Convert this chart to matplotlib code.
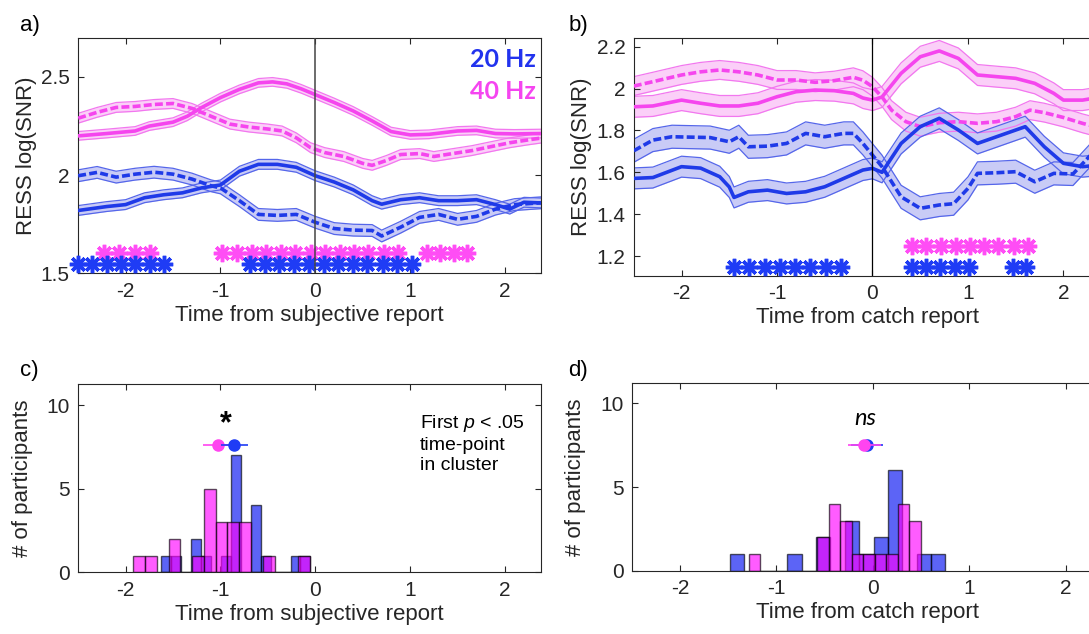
import numpy as np
import matplotlib
matplotlib.use('Agg')
import matplotlib.pyplot as plt
from matplotlib import rcParams

config = {
    "font.family": ['Liberation Sans', 'DejaVu Sans'],
    "font.size": 14,
    "mathtext.fontset": 'custom',
    "mathtext.rm": 'Liberation Sans',
    "mathtext.it": 'Liberation Sans:italic',
    "axes.unicode_minus": False,
}
rcParams.update(config)

# ---- panel a: time from subjective report ----
a_pink_solid_t = [-2.5, -2.2, -1.9, -1.75, -1.5, -1.35, -1.2, -1.0, -0.8, -0.6, -0.45, -0.3, -0.15, 0.0, 0.2, 0.4, 0.6, 0.8, 1.0, 1.2, 1.5, 1.7, 1.9, 2.1, 2.4]
a_pink_solid_y = [2.20, 2.212, 2.225, 2.25, 2.27, 2.30, 2.344, 2.395, 2.437, 2.47, 2.475, 2.465, 2.44, 2.41, 2.37, 2.327, 2.276, 2.222, 2.205, 2.208, 2.225, 2.228, 2.212, 2.21, 2.212]
a_pink_dash_t = [-2.5, -2.3, -2.1, -1.9, -1.7, -1.5, -1.3, -1.1, -0.9, -0.7, -0.5, -0.35, -0.2, -0.05, 0.1, 0.3, 0.5, 0.6, 0.75, 0.9, 1.1, 1.25, 1.45, 1.65, 1.85, 2.05, 2.25, 2.4]
a_pink_dash_y = [2.29, 2.32, 2.345, 2.35, 2.36, 2.365, 2.34, 2.30, 2.26, 2.245, 2.235, 2.225, 2.19, 2.14, 2.115, 2.095, 2.06, 2.05, 2.075, 2.105, 2.11, 2.095, 2.11, 2.125, 2.145, 2.165, 2.18, 2.19]
a_blue_solid_t = [-2.5, -2.2, -2.0, -1.8, -1.6, -1.4, -1.2, -1.0, -0.8, -0.6, -0.4, -0.2, 0.0, 0.2, 0.4, 0.6, 0.7, 0.9, 1.1, 1.3, 1.5, 1.7, 1.9, 2.05, 2.2, 2.4]
a_blue_solid_y = [1.82, 1.84, 1.85, 1.885, 1.90, 1.91, 1.935, 1.95, 2.02, 2.055, 2.055, 2.04, 1.997, 1.965, 1.925, 1.87, 1.852, 1.875, 1.885, 1.87, 1.87, 1.875, 1.85, 1.827, 1.862, 1.858]
a_blue_dash_t = [-2.5, -2.3, -2.1, -1.9, -1.7, -1.5, -1.3, -1.1, -1.0, -0.8, -0.6, -0.4, -0.2, 0.0, 0.2, 0.4, 0.6, 0.7, 0.9, 1.1, 1.3, 1.5, 1.7, 1.9, 2.1, 2.4]
a_blue_dash_y = [1.997, 2.014, 1.99, 2.005, 2.015, 2.005, 1.98, 1.946, 1.935, 1.87, 1.80, 1.795, 1.80, 1.76, 1.728, 1.72, 1.718, 1.69, 1.735, 1.785, 1.80, 1.775, 1.79, 1.827, 1.85, 1.86]
a_sem = [0.022, 0.025, 0.025, 0.03]  # pink solid, pink dashed, blue solid, blue dashed

a_pink_stars = [-2.23, -2.07, -1.90, -1.74,
                -0.98, -0.83, -0.67, -0.52, -0.36, -0.21, -0.05, 0.10, 0.26, 0.41, 0.56, 0.72, 0.87,
                1.18, 1.32, 1.46, 1.60]
a_blue_stars = [-2.50, -2.35, -2.20, -2.05, -1.90, -1.74, -1.59,
                -0.69, -0.53, -0.38, -0.22, -0.07, 0.09, 0.24, 0.40, 0.55, 0.71, 0.86, 1.02]

# ---- panel b: time from catch report ----
b_pink_solid_t = [-2.5, -2.3, -2.0, -1.8, -1.6, -1.4, -1.2, -1.0, -0.8, -0.6, -0.4, -0.2, -0.1, 0.0, 0.1, 0.3, 0.5, 0.7, 0.9, 1.1, 1.3, 1.5, 1.7, 1.9, 2.0, 2.2, 2.4]
b_pink_solid_y = [1.913, 1.917, 1.945, 1.93, 1.917, 1.917, 1.93, 1.961, 1.985, 1.993, 1.99, 1.977, 1.955, 1.945, 1.96, 2.073, 2.152, 2.18, 2.144, 2.065, 2.057, 2.049, 2.025, 1.977, 1.945, 1.945, 1.96]
b_pink_dash_t = [-2.5, -2.3, -2.0, -1.8, -1.6, -1.4, -1.2, -1.0, -0.8, -0.6, -0.4, -0.2, -0.1, 0.0, 0.1, 0.2, 0.35, 0.5, 0.7, 0.9, 1.1, 1.3, 1.5, 1.65, 1.8, 2.0, 2.2, 2.4]
b_pink_dash_y = [2.012, 2.033, 2.065, 2.08, 2.089, 2.08, 2.065, 2.041, 2.041, 2.03, 2.038, 2.054, 2.04, 2.009, 1.96, 1.897, 1.842, 1.818, 1.837, 1.842, 1.834, 1.842, 1.866, 1.897, 1.885, 1.862, 1.834, 1.81]
b_blue_solid_t = [-2.5, -2.3, -2.0, -1.8, -1.6, -1.5, -1.45, -1.3, -1.1, -0.9, -0.7, -0.5, -0.3, -0.1, 0.0, 0.1, 0.3, 0.5, 0.7, 0.9, 1.1, 1.3, 1.6, 1.8, 2.0, 2.2, 2.4]
b_blue_solid_y = [1.571, 1.575, 1.627, 1.62, 1.579, 1.53, 1.48, 1.507, 1.515, 1.499, 1.507, 1.531, 1.571, 1.611, 1.619, 1.60, 1.738, 1.818, 1.858, 1.802, 1.738, 1.77, 1.818, 1.722, 1.643, 1.627, 1.635]
b_blue_dash_t = [-2.5, -2.3, -2.1, -1.9, -1.7, -1.5, -1.4, -1.3, -1.1, -0.9, -0.7, -0.5, -0.3, -0.2, -0.1, 0.0, 0.1, 0.2, 0.3, 0.5, 0.7, 0.85, 1.0, 1.1, 1.3, 1.5, 1.7, 1.9, 2.1, 2.3, 2.4]
b_blue_dash_y = [1.703, 1.754, 1.77, 1.768, 1.766, 1.746, 1.77, 1.722, 1.725, 1.738, 1.786, 1.77, 1.786, 1.786, 1.738, 1.682, 1.627, 1.555, 1.483, 1.428, 1.444, 1.45, 1.523, 1.595, 1.598, 1.603, 1.555, 1.595, 1.592, 1.69, 1.70]
b_sem = [0.05, 0.045, 0.05, 0.055]

b_pink_stars = [0.41, 0.56, 0.72, 0.87, 1.02, 1.17, 1.32, 1.48, 1.63]
b_blue_stars = [-1.45, -1.29, -1.13, -0.97, -0.81, -0.65, -0.49, -0.33,
                0.41, 0.56, 0.71, 0.86, 1.01,
                1.47, 1.61]

# ---- panel c/d histograms: first significant time-point ----
c_blue_start, c_blue_width = -1.626, 0.105
c_blue_counts = [1, 1, 0, 2, 1, 0, 1, 7, 0, 4, 1, 0, 0, 1, 1]
c_pink_start, c_pink_width = -1.918, 0.124
c_pink_counts = [1, 1, 0, 2, 0, 1, 5, 3, 3, 3, 0, 1, 0, 0, 1]
c_means = [-1.028, -0.852]   # pink, blue
c_errs = [0.158, 0.14]

d_blue_start, d_blue_width = -1.483, 0.149
d_blue_counts = [1, 0, 0, 0, 1, 0, 2, 0, 3, 1, 2, 6, 0, 1, 1]
d_pink_start, d_pink_width = -1.29, 0.119
d_pink_counts = [1, 0, 0, 0, 0, 0, 2, 4, 3, 1, 1, 1, 1, 4, 3]
d_means = [-0.088, -0.06]
d_errs = [0.17, 0.17]

BLUE = '#1f3ae8'
PINK = '#f545ee'
BLUE_FILL = '#c9cbf6'
PINK_FILL = '#fbcff8'
BLUE_EDGE = '#5566ea'
PINK_EDGE = '#f277ef'
AX_COL = '#262626'


def style_axes(ax):
    for s in ax.spines.values():
        s.set_color(AX_COL)
        s.set_linewidth(0.8)
    ax.tick_params(direction='in', top=True, right=True, length=4, width=0.8,
                   colors=AX_COL, labelsize=15, pad=6)


def band(ax, t, y, half, color, fill, edge, ls):
    t = np.asarray(t)
    y = np.asarray(y)
    ax.fill_between(t, y - half, y + half, color=fill, lw=0, zorder=1)
    ax.plot(t, y - half, color=edge, lw=0.9, zorder=2)
    ax.plot(t, y + half, color=edge, lw=0.9, zorder=2)
    ax.plot(t, y, color=color, lw=2.6, ls=ls, zorder=3)


def stars(ax, xs, y, color):
    ax.plot(xs, [y] * len(xs), ls='none', marker=(8, 2, 0), ms=12.5, mew=2.5,
            color=color, zorder=4, clip_on=False)


fig = plt.figure(figsize=(10.89, 6.34), dpi=100)
ax_a = fig.add_axes([0.0718, 0.5689, 0.425, 0.3716])
ax_b = fig.add_axes([0.582, 0.5651, 0.4287, 0.3754])
ax_c = fig.add_axes([0.0718, 0.0973, 0.425, 0.2965])
ax_d = fig.add_axes([0.5803, 0.0994, 0.4327, 0.297])

DASH = (0, (2.2, 0.9))

# panel a
band(ax_a, a_pink_solid_t, a_pink_solid_y, a_sem[0], PINK, PINK_FILL, PINK_EDGE, '-')
band(ax_a, a_pink_dash_t, a_pink_dash_y, a_sem[1], PINK, PINK_FILL, PINK_EDGE, DASH)
band(ax_a, a_blue_solid_t, a_blue_solid_y, a_sem[2], BLUE, BLUE_FILL, BLUE_EDGE, '-')
band(ax_a, a_blue_dash_t, a_blue_dash_y, a_sem[3], BLUE, BLUE_FILL, BLUE_EDGE, DASH)
ax_a.axvline(0, color='#444444', lw=1.1, zorder=5)
stars(ax_a, a_pink_stars, 1.603, '#ff4df5')
stars(ax_a, a_blue_stars, 1.547, '#1f3cf5')
ax_a.set_xlim(-2.5, 2.38)
ax_a.set_ylim(1.5, 2.7)
ax_a.set_xticks([-2, -1, 0, 1, 2])
ax_a.set_yticks([1.5, 2, 2.5])
ax_a.set_yticklabels(['1.5', '2', '2.5'])
ax_a.set_xlabel('Time from subjective report', fontsize=16, color=AX_COL, labelpad=3)
ax_a.set_ylabel('RESS log(SNR)', fontsize=16, color=AX_COL, labelpad=3)
ax_a.text(2.33, 2.59, '20 Hz', color='#2233ee', fontsize=18, fontweight='bold',
          family=['Lato', 'DejaVu Sans'], ha='right', va='center')
ax_a.text(2.33, 2.425, '40 Hz', color='#f545f0', fontsize=18, fontweight='bold',
          family=['Lato', 'DejaVu Sans'], ha='right', va='center')
style_axes(ax_a)

# panel b
band(ax_b, b_pink_solid_t, b_pink_solid_y, b_sem[0], PINK, PINK_FILL, PINK_EDGE, '-')
band(ax_b, b_pink_dash_t, b_pink_dash_y, b_sem[1], PINK, PINK_FILL, PINK_EDGE, DASH)
band(ax_b, b_blue_solid_t, b_blue_solid_y, b_sem[2], BLUE, BLUE_FILL, BLUE_EDGE, '-')
band(ax_b, b_blue_dash_t, b_blue_dash_y, b_sem[3], BLUE, BLUE_FILL, BLUE_EDGE, DASH)
ax_b.axvline(0, color='black', lw=0.9, zorder=5)
stars(ax_b, b_pink_stars, 1.248, '#ff4df5')
stars(ax_b, b_blue_stars, 1.149, '#1f3cf5')
ax_b.set_xlim(-2.5, 2.39)
ax_b.set_ylim(1.106, 2.243)
ax_b.set_xticks([-2, -1, 0, 1, 2])
ax_b.set_yticks([1.2, 1.4, 1.6, 1.8, 2.0, 2.2])
ax_b.set_yticklabels(['1.2', '1.4', '1.6', '1.8', '2', '2.2'])
ax_b.set_xlabel('Time from catch report', fontsize=16, color=AX_COL, labelpad=3)
ax_b.set_ylabel('RESS log(SNR)', fontsize=16, color=AX_COL, labelpad=3)
style_axes(ax_b)


def hist(ax, start, width, counts, face):
    edges = start + width * np.arange(len(counts))
    ax.bar(edges, counts, width=width, align='edge', color=face, alpha=0.64,
           edgecolor=(0, 0, 0, 0.55), linewidth=1.0, zorder=2)


# panel c
hist(ax_c, c_blue_start, c_blue_width, c_blue_counts, (0.0, 0.05, 0.95))
hist(ax_c, c_pink_start, c_pink_width, c_pink_counts, (1.0, 0.0, 1.0))
ax_c.errorbar(c_means[0], 7.6, xerr=c_errs[0], fmt='o', ms=8, color='#ff44f0',
              elinewidth=1.2, capsize=0, zorder=4)
ax_c.errorbar(c_means[1], 7.6, xerr=c_errs[1], fmt='o', ms=8, color='#1f3cf5',
              elinewidth=1.2, capsize=0, zorder=5)
ax_c.text(-0.94, 8.85, '*', fontsize=22, fontweight='bold', ha='center', va='center')
ax_c.text(1.1, 9.55, 'First $\\it{p}$ < .05\ntime-point\nin cluster', fontsize=14,
          ha='left', va='top', linespacing=1.25)
ax_c.set_xlim(-2.5, 2.38)
ax_c.set_ylim(0, 11.25)
ax_c.set_xticks([-2, -1, 0, 1, 2])
ax_c.set_yticks([0, 5, 10])
ax_c.set_xlabel('Time from subjective report', fontsize=16, color=AX_COL, labelpad=3)
ax_c.set_ylabel('# of participants', fontsize=16, color=AX_COL, labelpad=10)
style_axes(ax_c)

# panel d
hist(ax_d, d_blue_start, d_blue_width, d_blue_counts, (0.0, 0.05, 0.95))
hist(ax_d, d_pink_start, d_pink_width, d_pink_counts, (1.0, 0.0, 1.0))
ax_d.errorbar(d_means[1], 7.5, xerr=d_errs[1], fmt='o', ms=8, color='#1f3cf5',
              elinewidth=1.2, capsize=0, zorder=4)
ax_d.errorbar(d_means[0], 7.5, xerr=d_errs[0], fmt='o', ms=8, color='#ff44f0',
              elinewidth=1.2, capsize=0, zorder=5)
ax_d.text(-0.08, 9.1, 'ns', fontsize=17, fontstyle='italic', ha='center', va='center',
          family=['Lato', 'DejaVu Sans'])
ax_d.set_xlim(-2.5, 2.39)
ax_d.set_ylim(0, 11.23)
ax_d.set_xticks([-2, -1, 0, 1, 2])
ax_d.set_yticks([0, 5, 10])
ax_d.set_xlabel('Time from catch report', fontsize=16, color=AX_COL, labelpad=3)
ax_d.set_ylabel('# of participants', fontsize=16, color=AX_COL, labelpad=10)
style_axes(ax_d)

# panel letters
for lab, x, y in [('a)', 0.018, 0.96), ('b)', 0.522, 0.96), ('c)', 0.018, 0.415), ('d)', 0.522, 0.415)]:
    fig.text(x, y, lab, fontsize=16, ha='left', va='center')

fig.savefig('out.png', dpi=100)
